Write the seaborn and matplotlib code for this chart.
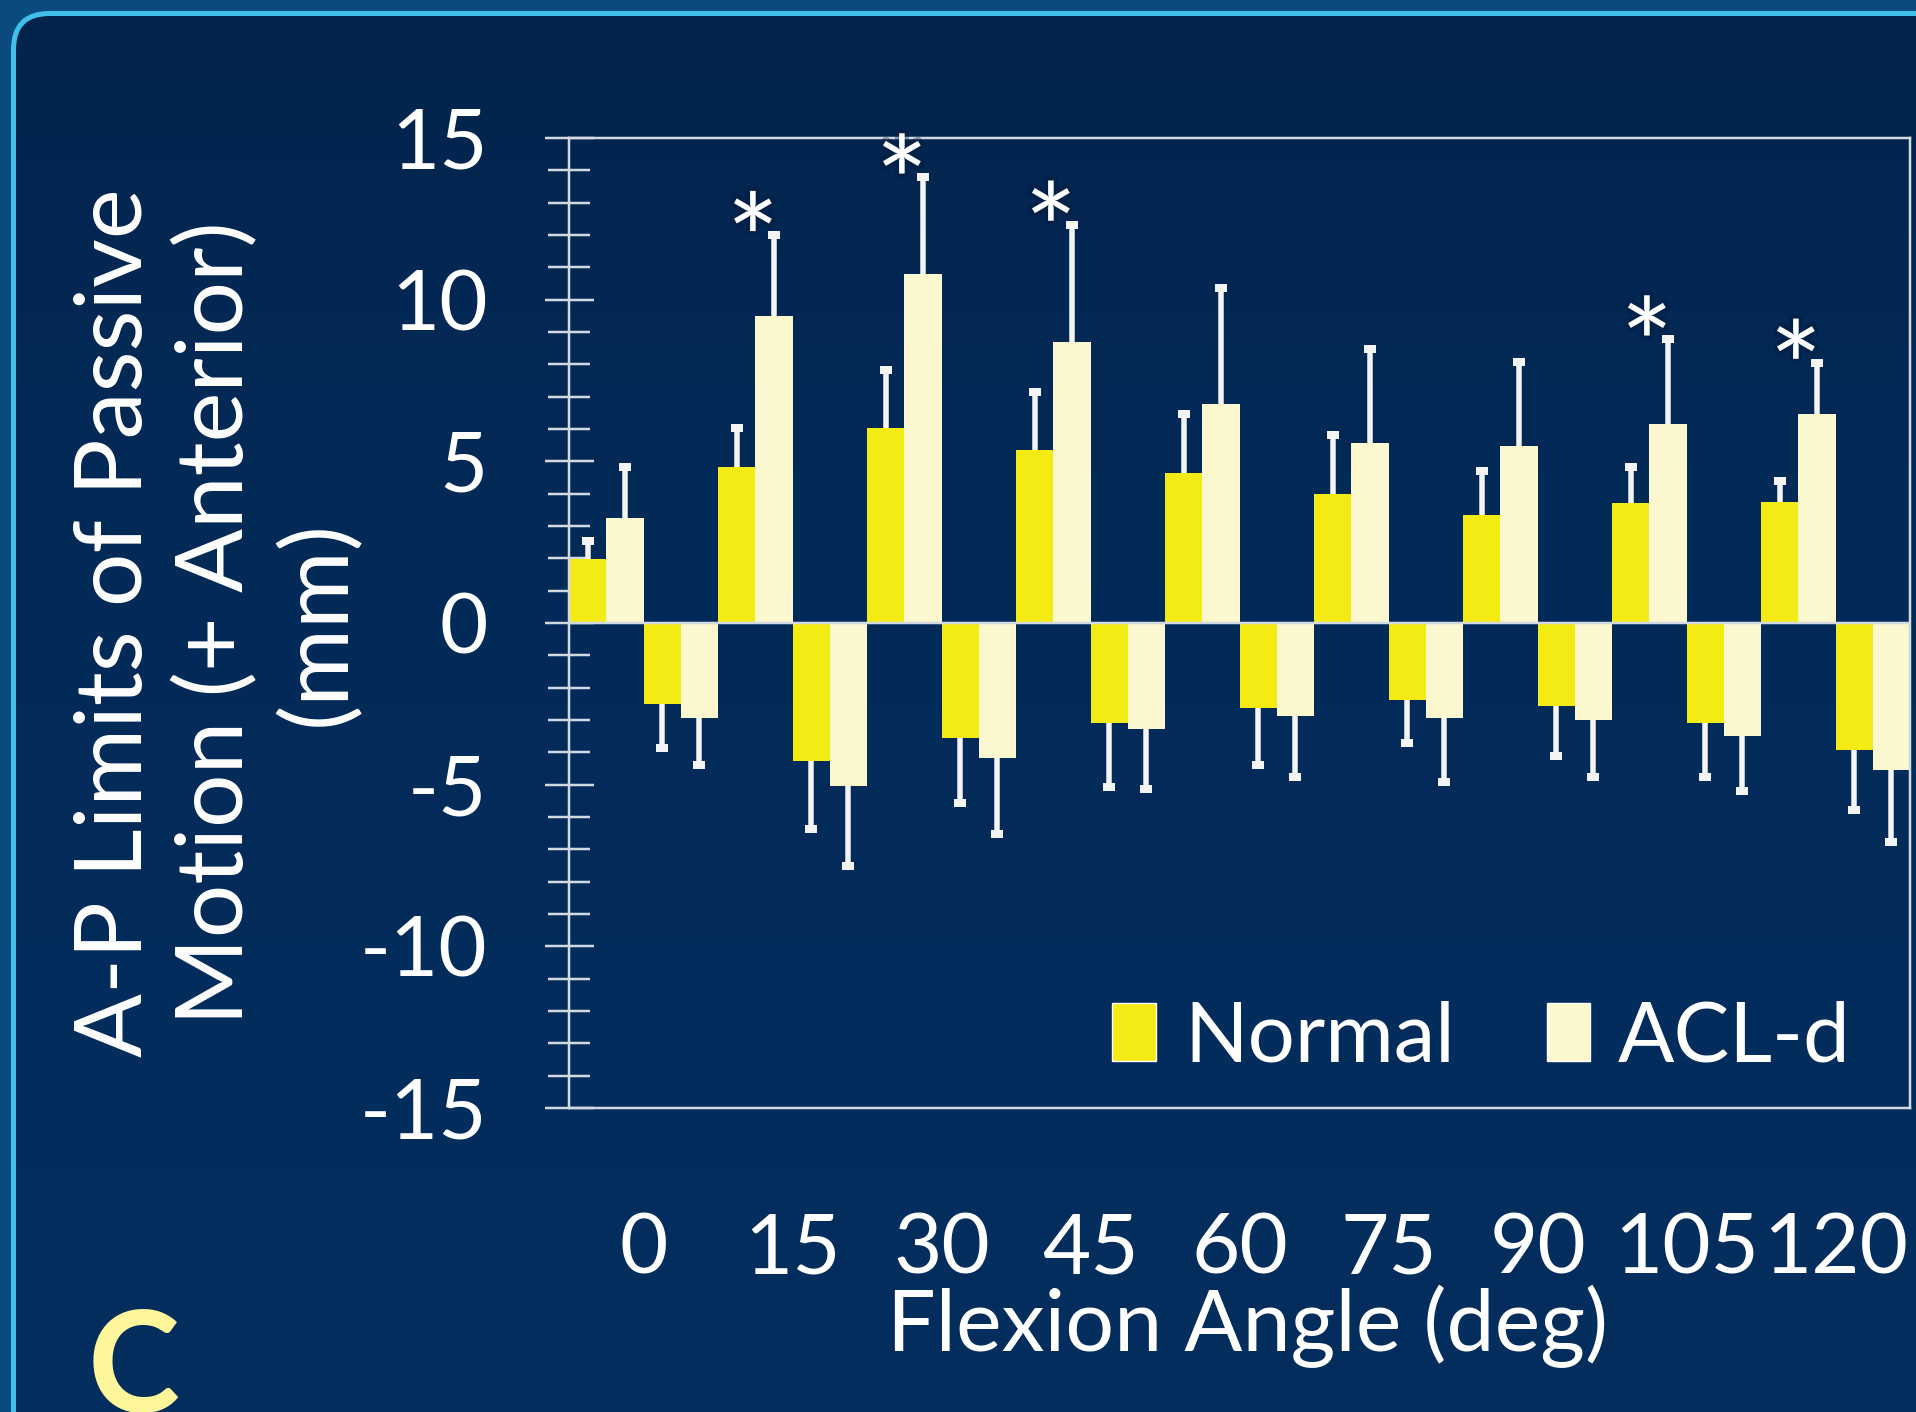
import numpy as np
import pandas as pd
import matplotlib
matplotlib.use("Agg")
import matplotlib.pyplot as plt
import matplotlib.patheffects as pe
from matplotlib.patches import FancyBboxPatch, Patch
from matplotlib.colors import LinearSegmentedColormap
import seaborn as sns

# ---- data -------------------------------------------------------------
angles = [0, 15, 30, 45, 60, 75, 90, 105, 120]

normal_ant = [1.97, 4.82, 6.03, 5.34, 4.63, 4.00, 3.34, 3.70, 3.75]
normal_ant_sd = [0.56, 1.21, 1.79, 1.81, 1.84, 1.82, 1.35, 1.14, 0.64]
acl_ant = [3.24, 9.49, 10.78, 8.70, 6.78, 5.58, 5.48, 6.16, 6.46]
acl_ant_sd = [1.58, 2.51, 3.00, 3.62, 3.59, 2.89, 2.58, 2.61, 1.59]

normal_post = [-2.49, -4.26, -3.55, -3.09, -2.63, -2.37, -2.57, -3.08, -3.92]
normal_post_sd = [1.38, 2.10, 2.01, 1.98, 1.77, 1.35, 1.54, 1.67, 1.86]
acl_post = [-2.95, -5.05, -4.18, -3.28, -2.89, -2.95, -2.99, -3.50, -4.56]
acl_post_sd = [1.44, 2.48, 2.34, 1.85, 1.86, 1.97, 1.76, 1.70, 2.22]

significant = [False, True, True, True, False, False, False, True, True]

series_names = ["Normal", "ACL-d"]
y_ticks = [15, 10, 5, 0, -5, -10, -15]

# ---- style ------------------------------------------------------------
W, H, DPI = 1916, 1412, 100
NAVY = "#022c5b"
OUTER = "#0a4a7c"
FRAME = "#3ec0ea"
YELLOW = "#f4ea14"
CREAM = "#fbf7cf"
AXIS = "#d3d9e1"
ERR = "#f4f4f4"
FONT = "Lato"

sns.set_theme(style="white")
plt.rcParams["font.family"] = [FONT, "DejaVu Sans"]
plt.rcParams["axes.unicode_minus"] = False

px = 72.0 / DPI  # points per pixel

# long table: four slots per flexion angle (anterior pair, then posterior pair)
rows = []
for i in range(len(angles)):
    rows.append(dict(slot=4 * i, value=normal_ant[i], series="Normal", sd=normal_ant_sd[i]))
    rows.append(dict(slot=4 * i + 1, value=acl_ant[i], series="ACL-d", sd=acl_ant_sd[i]))
    rows.append(dict(slot=4 * i + 2, value=normal_post[i], series="Normal", sd=normal_post_sd[i]))
    rows.append(dict(slot=4 * i + 3, value=acl_post[i], series="ACL-d", sd=acl_post_sd[i]))
df = pd.DataFrame(rows)
n_slots = len(df)
# error bars point away from zero
df["end"] = df["value"] + np.sign(df["value"]) * df["sd"]

fig = plt.figure(figsize=(W / DPI, H / DPI), dpi=DPI)
fig.patch.set_facecolor(OUTER)

# rounded panel with a soft vertical gradient
bg = fig.add_axes([0, 0, 1, 1], zorder=-5)
bg.set_xlim(0, W)
bg.set_ylim(H, 0)
bg.axis("off")
panel = FancyBboxPatch((13.5, 13.5), W + 60, H + 60,
                       boxstyle="round,pad=0,rounding_size=36",
                       facecolor=NAVY, edgecolor="none", zorder=1)
bg.add_patch(panel)
grad = np.linspace(0, 1, 256).reshape(-1, 1)
cmap = LinearSegmentedColormap.from_list("panel", ["#02244c", "#022a57", NAVY, "#022e5e"])
im = bg.imshow(grad, cmap=cmap, extent=(0, W, H, 0), aspect="auto", zorder=1.5)
im.set_clip_path(panel)
edge = FancyBboxPatch((13.5, 13.5), W + 60, H + 60,
                      boxstyle="round,pad=0,rounding_size=36",
                      facecolor="none", edgecolor=FRAME, linewidth=5 * px, zorder=2)
bg.add_patch(edge)

# main axes
left, right, top, bottom = 569, 1910, 138, 1108
ax = fig.add_axes([left / W, 1 - bottom / H, (right - left) / W, (bottom - top) / H])
ax.set_facecolor("none")

sns.barplot(data=df, x="slot", y="value", hue="series", order=list(range(n_slots)),
            hue_order=series_names, palette={"Normal": YELLOW, "ACL-d": CREAM},
            saturation=1, dodge=False, width=1.0, errorbar=None, linewidth=0,
            legend=False, ax=ax, zorder=2)

# one-sided whiskers with small block caps at the far end
ax.vlines(df["slot"], df["value"], df["end"], color=ERR, lw=5.5 * px, zorder=3)
ax.plot(df["slot"], df["end"], linestyle="none", marker="_", markersize=12 * px,
        markeredgewidth=8 * px, color=ERR, zorder=3)

ax.axhline(0, color=AXIS, lw=2.5 * px, zorder=4)

# significance markers over ACL-d anterior bars
for i, sig in enumerate(significant):
    if sig:
        ax.annotate("*", xy=(4 * i + 1, acl_ant[i] + acl_ant_sd[i]),
                    xytext=(-21 * px, -50 * px), textcoords="offset points",
                    ha="center", va="baseline", fontsize=90, color="white",
                    path_effects=[pe.withStroke(linewidth=6, foreground="#011a3a", alpha=0.35)],
                    zorder=5)

ax.set_xlim(-0.5, n_slots - 0.5)
ax.set_ylim(-15, 15)
ax.set_yticks(y_ticks)
ax.set_yticklabels([str(v) for v in y_ticks])
ax.set_yticks(np.arange(-15, 16, 1), minor=True)
ax.set_xticks([4 * i + 1.5 for i in range(len(angles))])
ax.set_xticklabels([str(a) for a in angles])

ax.tick_params(axis="y", which="major", direction="inout", length=49 * px, width=2.5 * px,
               color=AXIS, pad=57 * px, labelsize=60, labelcolor="white", left=True)
ax.tick_params(axis="y", which="minor", direction="inout", length=42 * px, width=2.5 * px,
               color=AXIS, left=True)
ax.tick_params(axis="x", which="both", length=0, pad=105 * px, labelsize=60, labelcolor="white")

for s in ax.spines.values():
    s.set_visible(True)
    s.set_color(AXIS)
    s.set_linewidth(2.5 * px)

ax.set_xlabel("Flexion Angle (deg)", fontsize=62, color="white", va="center")
ax.xaxis.set_label_coords(0.5056, -0.2247)
ax.set_ylabel("A-P Limits of Passive\nMotion (+ Anterior)\n(mm)", fontsize=68,
              color="white", linespacing=1.22, va="center", ha="center")
ax.yaxis.set_label_coords(-0.262, 0.5)

handles = [Patch(facecolor=YELLOW, label="Normal"), Patch(facecolor=CREAM, label="ACL-d")]
ax.legend(handles=handles, ncol=2, frameon=False, loc="center right",
          bbox_to_anchor=(0.956, 0.072), handlelength=0.52, handleheight=0.68,
          handletextpad=0.34, columnspacing=1.1, borderpad=0, borderaxespad=0,
          fontsize=60, labelcolor="white")

fig.text(88 / W, 1 - 1412 / H, "C", fontsize=100, fontweight="bold", color="#fff59a",
         ha="left", va="baseline")

fig.savefig("out.png", dpi=DPI, facecolor=fig.get_facecolor())
